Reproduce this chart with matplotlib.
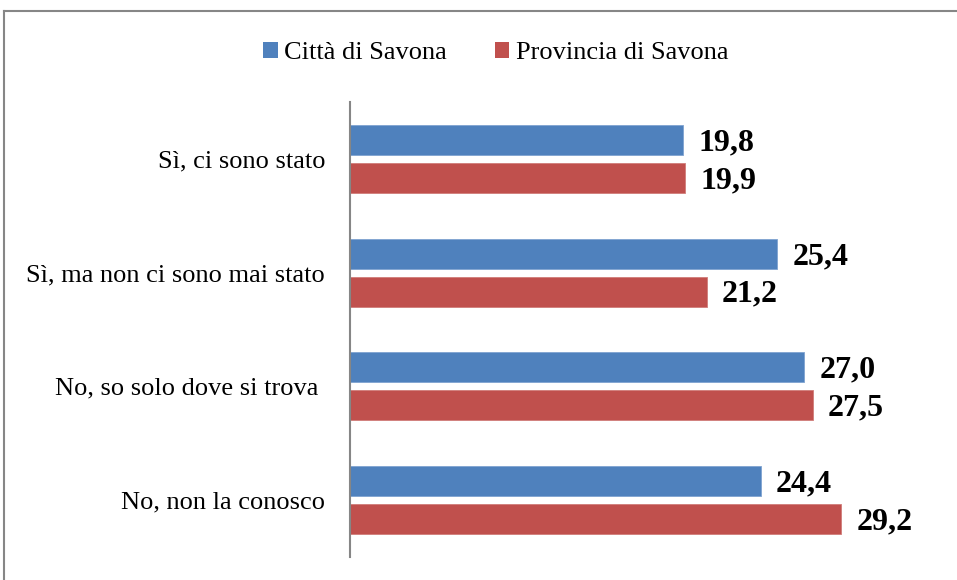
import matplotlib
matplotlib.use("Agg")
import matplotlib.pyplot as plt
from matplotlib.patches import Patch
from matplotlib.lines import Line2D

categories = ["Sì, ci sono stato", "Sì, ma non ci sono mai stato",
              "No, so solo dove si trova ", "No, non la conosco"]
series_names = ["Città di Savona", "Provincia di Savona"]
citta = [19.8, 25.4, 27.0, 24.4]
provincia = [19.9, 21.2, 27.5, 29.2]

blue = "#4F81BD"
red = "#C0504D"

plt.rcParams['font.family'] = ['Liberation Serif', 'DejaVu Serif']

W, H = 957, 580
fig = plt.figure(figsize=(W / 100, H / 100), dpi=100)

# outer border (top and left visible)
fig.add_artist(Line2D([4 / W, 4 / W], [0, 1 - 11 / H], transform=fig.transFigure,
                      color="#868686", lw=1.5))
fig.add_artist(Line2D([4 / W, 1], [1 - 11 / H, 1 - 11 / H], transform=fig.transFigure,
                      color="#868686", lw=1.5))

ax = fig.add_axes([350 / W, 1 - 557 / H, 589 / W, 455 / H])
ax.set_xlim(0, 35)
ax.set_ylim(3.5, -0.5)

pos = list(range(len(categories)))
off = 0.1667
h = 0.263
ax.barh([p - off for p in pos], citta, height=h, color=blue,
        edgecolor="#7FA3D0", linewidth=0.6)
ax.barh([p + off for p in pos], provincia, height=h, color=red,
        edgecolor="#D07C79", linewidth=0.6)

for p, v in zip(pos, citta):
    ax.annotate(f"{v:.1f}".replace(".", ","), (v, p - off), xytext=(11, -2),
                textcoords="offset points", va="center", ha="left",
                fontsize=23, fontweight="bold")
for p, v in zip(pos, provincia):
    ax.annotate(f"{v:.1f}".replace(".", ","), (v, p + off), xytext=(11, -2),
                textcoords="offset points", va="center", ha="left",
                fontsize=23, fontweight="bold")

ax.set_yticks(pos)
ax.set_yticklabels(categories, fontsize=19)
ax.tick_params(axis="y", length=0, pad=18)
ax.set_xticks([])
for s in ["top", "right", "bottom"]:
    ax.spines[s].set_visible(False)
ax.spines["left"].set_color("#868686")
ax.spines["left"].set_linewidth(1.5)

handles = [Patch(facecolor=blue), Patch(facecolor=red)]
fig.legend(handles, series_names, loc="center", bbox_to_anchor=(0.518, 0.909),
           ncol=2, frameon=False, fontsize=19, handlelength=0.55,
           handleheight=0.55, handletextpad=0.25, columnspacing=1.8)

fig.savefig("out.png", dpi=100)
